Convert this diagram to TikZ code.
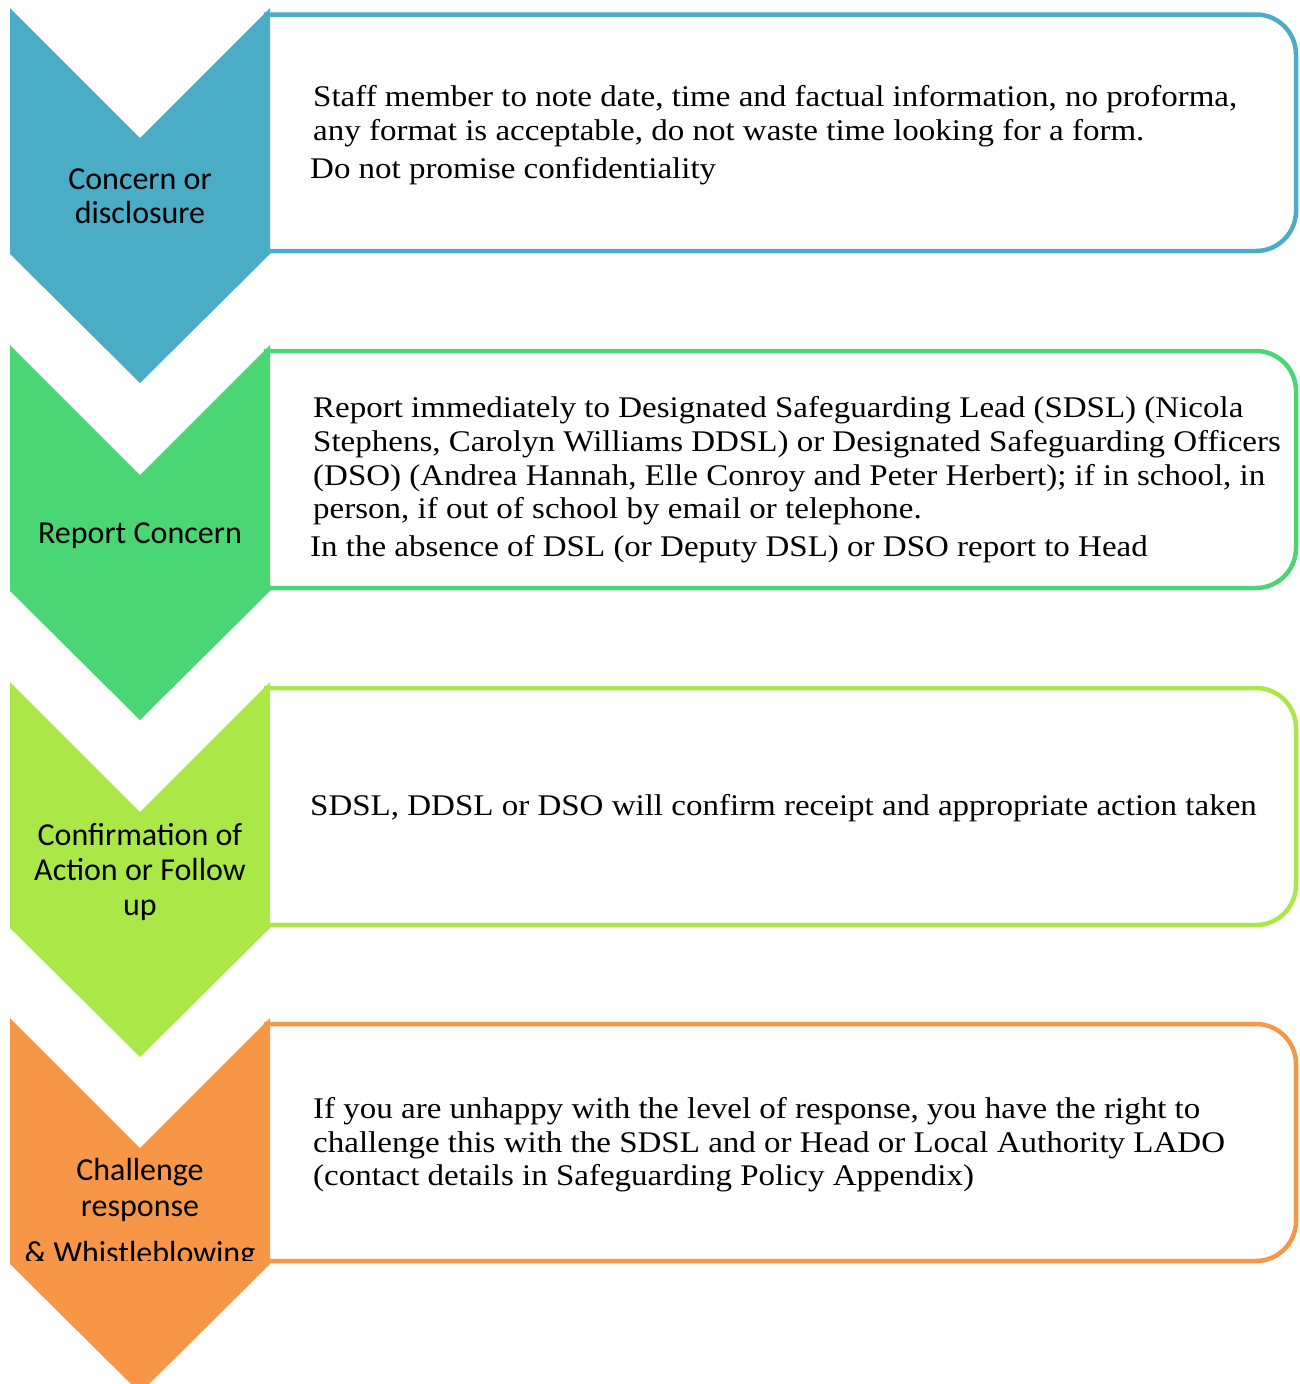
\documentclass[tikz,border=0pt]{standalone}
\usepackage{fontspec}
\setmainfont{Liberation Serif}[FakeStretch=1.10]
\newfontfamily\chevfont{Carlito}
\definecolor{cblue}{RGB}{75,172,198}
\definecolor{cgreen}{RGB}{74,214,116}
\definecolor{clime}{RGB}{170,232,72}
\definecolor{corange}{RGB}{247,150,70}
\begin{document}
\begin{tikzpicture}[x=1pt,y=-1pt,
  chev/.style={fill=#1,draw=none},
  stepbox/.style={draw=#1,line width=4.5pt,fill=white},
  boxtext/.style={anchor=base west,inner sep=0pt,font=\fontsize{30}{34}\selectfont},
  chevtext/.style={anchor=base,inner sep=0pt,font=\chevfont\fontsize{32}{35}\selectfont}]
\useasboundingbox (0,0) rectangle (1299,1384);
% boxes
\draw[stepbox=cblue]   (266,14.5) -- (1256,14.5) arc[start angle=-90,end angle=0,radius=40] -- (1296,211) arc[start angle=0,end angle=90,radius=40] -- (266,251) -- cycle;
\draw[stepbox=cgreen]  (266,351) -- (1256,351) arc[start angle=-90,end angle=0,radius=40] -- (1296,548) arc[start angle=0,end angle=90,radius=40] -- (266,588) -- cycle;
\draw[stepbox=clime]   (266,688) -- (1256,688) arc[start angle=-90,end angle=0,radius=40] -- (1296,885) arc[start angle=0,end angle=90,radius=40] -- (266,925) -- cycle;
\draw[stepbox=corange] (266,1024) -- (1256,1024) arc[start angle=-90,end angle=0,radius=40] -- (1296,1221) arc[start angle=0,end angle=90,radius=40] -- (266,1261) -- cycle;
% chevrons
\fill[chev=cblue]   (10,8) -- (140,138) -- (270,8) -- (270,254) -- (140,383) -- (10,254) -- cycle;
\fill[chev=cgreen]  (10,345) -- (140,475) -- (270,345) -- (270,591) -- (140,720) -- (10,591) -- cycle;
\fill[chev=clime]   (10,682) -- (140,812) -- (270,682) -- (270,928) -- (140,1057) -- (10,928) -- cycle;
\fill[chev=corange] (10,1018) -- (140,1148) -- (270,1018) -- (270,1264) -- (140,1393) -- (10,1264) -- cycle;
% chevron labels
\node[chevtext] (c1a) at (140,189) {Concern or};
\node[chevtext] (c1b) at (140,223) {disclosure};
\node[chevtext] (c2a) at (140,543) {Report Concern};
\node[chevtext] (c3a) at (140,845) {Confirmation of};
\node[chevtext] (c3b) at (140,880) {Action or Follow};
\node[chevtext] (c3c) at (140,915) {up};
\node[chevtext] (c4a) at (140,1180) {Challenge};
\node[chevtext] (c4b) at (140,1216) {response};
\begin{scope}
\clip (0,1200) rectangle (1299,1260);
\node[chevtext] (c4c) at (140,1263) {\& Whistleblowing};
\end{scope}
% box texts
\node[boxtext] (b1a) at (313,106) {Staff member to note date, time and factual information, no proforma,};
\node[boxtext] (b1b) at (313,140) {any format is acceptable, do not waste time looking for a form.};
\node[boxtext] (b1c) at (310,178) {Do not promise confidentiality};
\node[boxtext] (b2a) at (313,417) {Report immediately to Designated Safeguarding Lead (SDSL) (Nicola};
\node[boxtext] (b2b) at (313,451) {Stephens, Carolyn Williams DDSL) or Designated Safeguarding Officers};
\node[boxtext] (b2c) at (313,485) {(DSO) (Andrea Hannah, Elle Conroy and Peter Herbert); if in school, in};
\node[boxtext] (b2d) at (313,518) {person, if out of school by email or telephone.};
\node[boxtext] (b2e) at (310,556) {In the absence of DSL (or Deputy DSL) or DSO report to Head};
\node[boxtext] (b3a) at (310,815) {SDSL, DDSL or DSO will confirm receipt and appropriate action taken};
\node[boxtext] (b4a) at (313,1118) {If you are unhappy with the level of response, you have the right to};
\node[boxtext] (b4b) at (313,1152) {challenge this with the SDSL and or Head or Local Authority LADO};
\node[boxtext] (b4c) at (313,1185) {(contact details in Safeguarding Policy Appendix)};
\end{tikzpicture}
\end{document}
